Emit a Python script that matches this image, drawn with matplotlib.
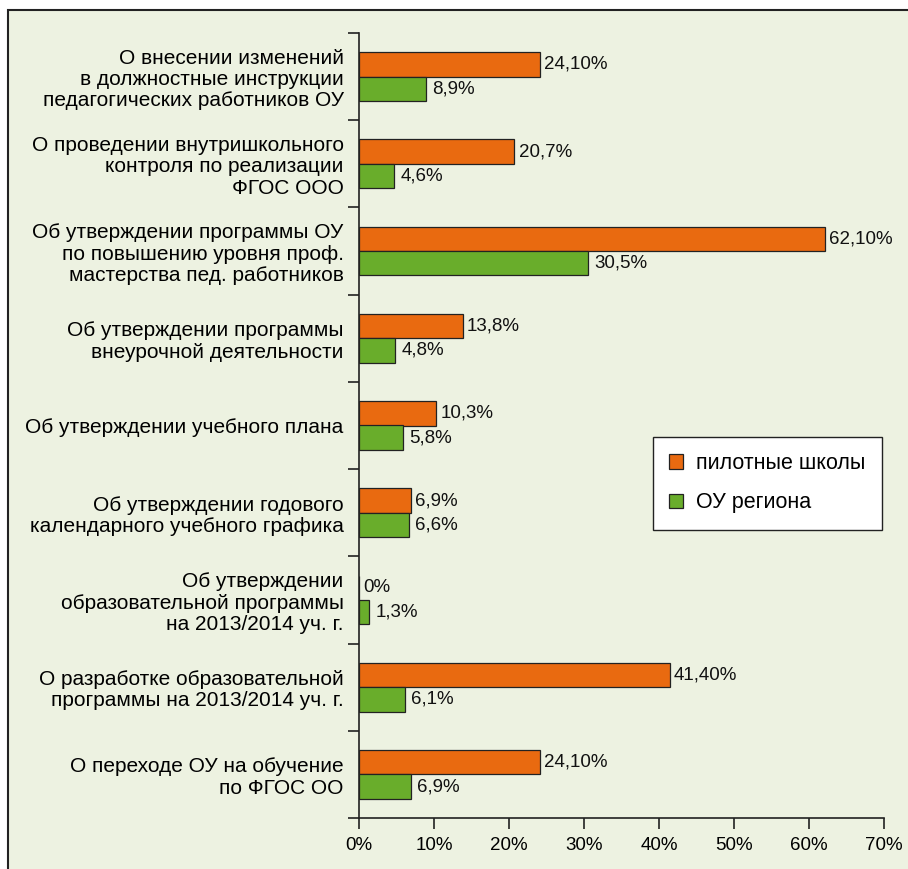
import matplotlib
matplotlib.use("Agg")
import matplotlib.pyplot as plt
from matplotlib.patches import Rectangle, Patch
import numpy as np

plt.rcParams['font.family'] = ['Liberation Sans', 'DejaVu Sans']

categories = [
    "О внесении изменений\nв должностные инструкции\nпедагогических работников ОУ",
    "О проведении внутришкольного\nконтроля по реализации\nФГОС ООО",
    "Об утверждении программы ОУ\nпо повышению уровня проф.\nмастерства пед. работников",
    "Об утверждении программы\nвнеурочной деятельности",
    "Об утверждении учебного плана",
    "Об утверждении годового\nкалендарного учебного графика",
    "Об утверждении\nобразовательной программы\nна 2013/2014 уч. г.",
    "О разработке образовательной\nпрограммы на 2013/2014 уч. г.",
    "О переходе ОУ на обучение\nпо ФГОС ОО",
]
pilot = [24.1, 20.7, 62.1, 13.8, 10.3, 6.9, 0.0, 41.4, 24.1]
region = [8.9, 4.6, 30.5, 4.8, 5.8, 6.6, 1.3, 6.1, 6.9]
pilot_labels = ["24,10%", "20,7%", "62,10%", "13,8%", "10,3%", "6,9%", "0%", "41,40%", "24,10%"]
region_labels = ["8,9%", "4,6%", "30,5%", "4,8%", "5,8%", "6,6%", "1,3%", "6,1%", "6,9%"]
xticks = [0, 10, 20, 30, 40, 50, 60, 70]
xtick_labels = ["0%", "10%", "20%", "30%", "40%", "50%", "60%", "70%"]
series_names = ["пилотные школы", "ОУ региона"]

orange = "#E96A10"
green = "#69AD2B"
bg = "#EDF2E1"

W, H = 908, 869
fig = plt.figure(figsize=(W / 100, H / 100), dpi=100, facecolor="white")
# background panel with top/left border
fig.add_artist(Rectangle((8 / W, -0.1), 1.2, 1 - 10 / H + 0.1, transform=fig.transFigure,
                         facecolor=bg, edgecolor="#222222", linewidth=1.5, zorder=0))

ax = fig.add_axes([359 / W, 1 - 818 / H, (884 - 359) / W, (818 - 33) / H])
ax.set_facecolor("none")

n = len(categories)
centers = np.arange(n) + 0.5
bh = 0.28
ax.barh(centers - bh / 2, pilot, height=bh, color=orange, edgecolor="#222222", linewidth=0.9)
ax.barh(centers + bh / 2, region, height=bh, color=green, edgecolor="#222222", linewidth=0.9)

fs_val = 13.5
fs_lab = 15
for c, v, lab in zip(centers, pilot, pilot_labels):
    ax.text(v + 0.6, c - bh / 2, lab, va="center", ha="left", fontsize=fs_val, color="#111111")
for c, v, lab in zip(centers, region, region_labels):
    ax.text(v + 0.9, c + bh / 2, lab, va="center", ha="left", fontsize=fs_val, color="#111111")

ax.set_ylim(n, 0)
ax.set_xlim(0, 70)
ax.set_yticks(np.arange(n + 1))
ax.set_yticklabels([])
ax.set_yticks(centers, minor=True)
ax.set_yticklabels(categories, minor=True, fontsize=fs_lab, ha="right", multialignment="right",
                   linespacing=1.15)
ax.tick_params(axis="y", which="minor", length=0, pad=11)
ax.tick_params(axis="y", which="major", length=8, width=1.2, direction="out", color="#222222")
ax.set_xticks(xticks)
ax.set_xticklabels(xtick_labels, fontsize=fs_val)
ax.tick_params(axis="x", length=8, width=1.2, direction="out", color="#222222", pad=6)

for s in ["top", "right"]:
    ax.spines[s].set_visible(False)
for s in ["left", "bottom"]:
    ax.spines[s].set_linewidth(1.2)
    ax.spines[s].set_color("#222222")

handles = [Patch(facecolor=orange, edgecolor="#222222", linewidth=0.9),
           Patch(facecolor=green, edgecolor="#222222", linewidth=0.9)]
leg = fig.legend(handles, series_names, loc="upper left",
                 bbox_to_anchor=(653 / W, 1 - 437 / H), fontsize=15.5,
                 frameon=True, fancybox=False, edgecolor="#222222", facecolor="white",
                 handlelength=0.65, handleheight=0.65, handletextpad=0.6,
                 borderpad=0.75, labelspacing=0.85, borderaxespad=0)
leg.get_frame().set_linewidth(1.0)
leg.get_frame().set_alpha(1)

fig.savefig("out.png", dpi=100, facecolor=fig.get_facecolor())
